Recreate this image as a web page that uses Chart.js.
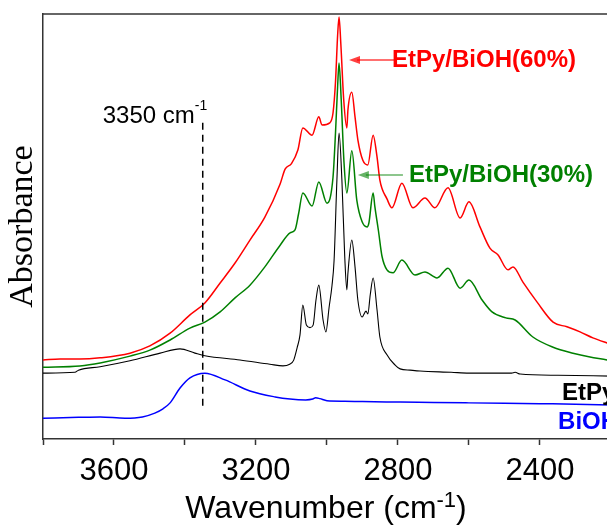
<!DOCTYPE html>
<html>
<head>
<meta charset="utf-8">
<script src="https://cdn.jsdelivr.net/npm/chart.js@4.4.1/dist/chart.umd.min.js"></script>
<style>
  html, body { margin: 0; padding: 0; background: #fff; overflow: hidden; }
  #wrap { width: 650px; height: 525px; }
</style>
</head>
<body>
<div id="wrap"><canvas id="ftir" width="650" height="525"></canvas></div>
<script>
// wavenumber (cm-1) / absorbance (a.u.)
const biohWn  = [3800, 3700, 3639, 3569, 3520, 3485, 3462, 3442, 3414, 3386, 3344, 3287, 3217, 3146, 3104, 3060, 3040, 3032, 3020, 3000, 2950, 2900, 2794, 2700, 2600, 2500, 2400, 2300, 2200];
const biohAbs = [0.049, 0.051, 0.052, 0.049, 0.052, 0.061, 0.071, 0.085, 0.120, 0.144, 0.155, 0.139, 0.113, 0.099, 0.094, 0.092, 0.094, 0.097, 0.095, 0.090, 0.089, 0.088, 0.087, 0.086, 0.085, 0.084, 0.083, 0.082, 0.080];

const etpyWn  = [3800, 3710, 3700, 3639, 3555, 3470, 3414, 3372, 3344, 3245, 3161, 3124, 3105, 3094, 3084, 3076, 3068, 3058, 3048, 3039, 3031, 3023, 3011, 3003, 2994, 2986, 2980, 2972, 2966, 2958, 2950, 2944, 2941, 2930, 2921, 2913, 2901, 2890, 2885, 2878, 2870, 2859, 2851, 2831, 2808, 2794, 2766, 2738, 2650, 2600, 2480, 2470, 2456, 2350, 2200];
const etpyAbs = [0.155, 0.157, 0.162, 0.170, 0.184, 0.202, 0.212, 0.202, 0.196, 0.186, 0.176, 0.172, 0.176, 0.185, 0.215, 0.245, 0.315, 0.268, 0.262, 0.268, 0.327, 0.362, 0.280, 0.252, 0.310, 0.360, 0.420, 0.610, 0.720, 0.610, 0.430, 0.351, 0.390, 0.468, 0.405, 0.327, 0.287, 0.301, 0.294, 0.340, 0.379, 0.304, 0.240, 0.198, 0.174, 0.165, 0.162, 0.160, 0.157, 0.155, 0.155, 0.157, 0.153, 0.150, 0.148];

const mix30Wn  = [3800, 3696, 3639, 3555, 3499, 3442, 3386, 3344, 3301, 3259, 3217, 3175, 3132, 3104, 3090, 3080, 3068, 3042, 3023, 3000, 2983, 2976, 2970, 2966, 2960, 2952, 2944, 2930, 2916, 2901, 2887, 2882, 2870, 2865, 2855, 2845, 2831, 2814, 2789, 2752, 2724, 2690, 2659, 2625, 2600, 2563, 2535, 2496, 2470, 2420, 2363, 2307, 2259, 2211, 2200];
const mix30Abs = [0.169, 0.172, 0.179, 0.195, 0.209, 0.233, 0.261, 0.275, 0.299, 0.332, 0.362, 0.405, 0.456, 0.485, 0.492, 0.530, 0.579, 0.548, 0.605, 0.555, 0.616, 0.720, 0.830, 0.885, 0.800, 0.650, 0.579, 0.678, 0.562, 0.511, 0.499, 0.508, 0.579, 0.546, 0.490, 0.430, 0.398, 0.391, 0.421, 0.386, 0.393, 0.379, 0.402, 0.355, 0.374, 0.327, 0.299, 0.285, 0.280, 0.240, 0.216, 0.202, 0.193, 0.186, 0.184];

const mix60Wn  = [3800, 3752, 3696, 3639, 3555, 3499, 3442, 3386, 3344, 3301, 3259, 3217, 3175, 3132, 3118, 3100, 3082, 3068, 3042, 3023, 3014, 2992, 2983, 2976, 2970, 2966, 2961, 2953, 2944, 2941, 2930, 2921, 2913, 2899, 2885, 2870, 2859, 2851, 2831, 2817, 2789, 2758, 2724, 2696, 2659, 2625, 2600, 2569, 2541, 2518, 2490, 2476, 2448, 2408, 2363, 2324, 2287, 2251, 2211, 2200];
const mix60Abs = [0.186, 0.188, 0.188, 0.191, 0.202, 0.219, 0.249, 0.292, 0.320, 0.367, 0.414, 0.468, 0.522, 0.600, 0.635, 0.648, 0.680, 0.732, 0.715, 0.758, 0.739, 0.744, 0.767, 0.840, 0.950, 0.993, 0.930, 0.800, 0.732, 0.774, 0.816, 0.758, 0.704, 0.656, 0.645, 0.715, 0.664, 0.609, 0.565, 0.544, 0.602, 0.544, 0.567, 0.544, 0.591, 0.520, 0.558, 0.499, 0.449, 0.433, 0.398, 0.405, 0.369, 0.322, 0.275, 0.264, 0.252, 0.238, 0.226, 0.223];

// annotation anchors (data units)
const markerWn = 3350, markerTop = 0.744, markerBottom = 0.068;

function pts(wn, ab) { return wn.map((w, i) => ({ x: w, y: ab[i] })); }

function series(label, wn, ab, color, width) {
    return {
        label: label,
        data: pts(wn, ab),
        borderColor: color,
        borderWidth: width,
        pointRadius: 0,
        fill: false,
        cubicInterpolationMode: 'monotone'
    };
}

const overlay = {
    id: 'overlay',
    afterDatasetsDraw(chart) {
        const ctx = chart.ctx, xs = chart.scales.x, ys = chart.scales.y, a = chart.chartArea;
        ctx.save();
        // top frame line
        ctx.strokeStyle = '#333'; ctx.lineWidth = 1.5;
        ctx.beginPath(); ctx.moveTo(a.left, a.top); ctx.lineTo(a.right, a.top); ctx.stroke();

        // dashed marker at 3350
        const mx = xs.getPixelForValue(markerWn);
        ctx.strokeStyle = '#000'; ctx.setLineDash([7, 5]);
        ctx.beginPath(); ctx.moveTo(mx, ys.getPixelForValue(markerTop)); ctx.lineTo(mx, ys.getPixelForValue(markerBottom)); ctx.stroke();
        ctx.setLineDash([]);
        ctx.fillStyle = '#000';
        ctx.textBaseline = 'alphabetic';
        ctx.textAlign = 'right';
        ctx.font = '24px "Liberation Sans", Arial, sans-serif';
        const ly = ys.getPixelForValue(markerTop);
        ctx.fillText('3350 cm', mx - 8, ly);
        ctx.textAlign = 'left';
        ctx.font = '14px "Liberation Sans", Arial, sans-serif';
        ctx.fillText('-1', mx - 8, ly - 13);

        // arrows + sample labels
        function arrow(from, to, yv, color) {
            const x1 = xs.getPixelForValue(from), x2 = xs.getPixelForValue(to), y = ys.getPixelForValue(yv);
            ctx.strokeStyle = color; ctx.fillStyle = color; ctx.lineWidth = 1.5;
            ctx.beginPath(); ctx.moveTo(x1, y); ctx.lineTo(x2 + 8, y); ctx.stroke();
            ctx.beginPath(); ctx.moveTo(x2, y); ctx.lineTo(x2 + 11, y - 4); ctx.lineTo(x2 + 11, y + 4); ctx.closePath(); ctx.fill();
        }
        arrow(2808, 2938, 0.892, 'rgba(255,0,0,0.75)');
        arrow(2786, 2913, 0.621, 'rgba(0,128,0,0.6)');

        ctx.font = 'bold 24px "Liberation Sans", Arial, sans-serif';
        ctx.textBaseline = 'middle';
        ctx.textAlign = 'left';
        ctx.fillStyle = '#ff0000';
        ctx.fillText('EtPy/BiOH(60%)', xs.getPixelForValue(2817), ys.getPixelForValue(0.892));
        ctx.fillStyle = '#008000';
        ctx.fillText('EtPy/BiOH(30%)', xs.getPixelForValue(2769), ys.getPixelForValue(0.621));
        ctx.fillStyle = '#000';
        ctx.fillText('EtPy', xs.getPixelForValue(2338), ys.getPixelForValue(0.108));
        ctx.fillStyle = '#0000ff';
        ctx.fillText('BiOH', xs.getPixelForValue(2349), ys.getPixelForValue(0.038));

        // x axis title with superscript
        ctx.fillStyle = '#000';
        ctx.textBaseline = 'alphabetic';
        const big = '32px "Liberation Sans", Arial, sans-serif', small = '22px "Liberation Sans", Arial, sans-serif';
        ctx.font = big; const w1 = ctx.measureText('Wavenumber (cm').width, w3 = ctx.measureText(')').width;
        ctx.font = small; const w2 = ctx.measureText('-1').width;
        let tx = 326 - (w1 + w2 + w3) / 2;
        const ty = 518;
        ctx.font = big; ctx.fillText('Wavenumber (cm', tx, ty); tx += w1;
        ctx.font = small; ctx.fillText('-1', tx, ty - 11); tx += w2;
        ctx.font = big; ctx.fillText(')', tx, ty);
        ctx.restore();
    }
};

new Chart(document.getElementById('ftir').getContext('2d'), {
    type: 'line',
    data: {
        datasets: [
            series('BiOH', biohWn, biohAbs, '#0000ff', 1.5),
            series('EtPy', etpyWn, etpyAbs, '#000000', 1.1),
            series('EtPy/BiOH(30%)', mix30Wn, mix30Abs, '#008000', 1.5),
            series('EtPy/BiOH(60%)', mix60Wn, mix60Abs, '#ff0000', 1.5)
        ]
    },
    options: {
        responsive: false,
        animation: false,
        layout: { padding: { top: 14, left: 0, right: 0, bottom: 0 } },
        plugins: { legend: { display: false }, tooltip: { enabled: false } },
        scales: {
            x: {
                type: 'linear', reverse: true, min: 2090, max: 3800,
                afterFit: s => { s.height = 86; },
                ticks: {
                    stepSize: 200, includeBounds: false, autoSkip: false, maxRotation: 0, padding: 8,
                    color: '#000', font: { family: '"Liberation Sans", Arial, sans-serif', size: 31 },
                    callback: v => (v % 400 === 0 ? String(v) : '')
                },
                grid: { drawOnChartArea: false, drawTicks: true, tickLength: 6, tickColor: '#333', tickWidth: 1.5 },
                border: { color: '#333', width: 1.5 }
            },
            y: {
                min: 0, max: 1,
                afterFit: s => { s.width = 43; },
                ticks: { display: false },
                grid: { display: false },
                border: { display: true, color: '#333', width: 1.5 },
                title: {
                    display: true, text: 'Absorbance', color: '#000',
                    font: { family: '"Liberation Serif", "Times New Roman", serif', size: 34 },
                    padding: { top: 3, bottom: 0 }
                }
            }
        }
    },
    plugins: [overlay]
});
</script>
</body>
</html>
